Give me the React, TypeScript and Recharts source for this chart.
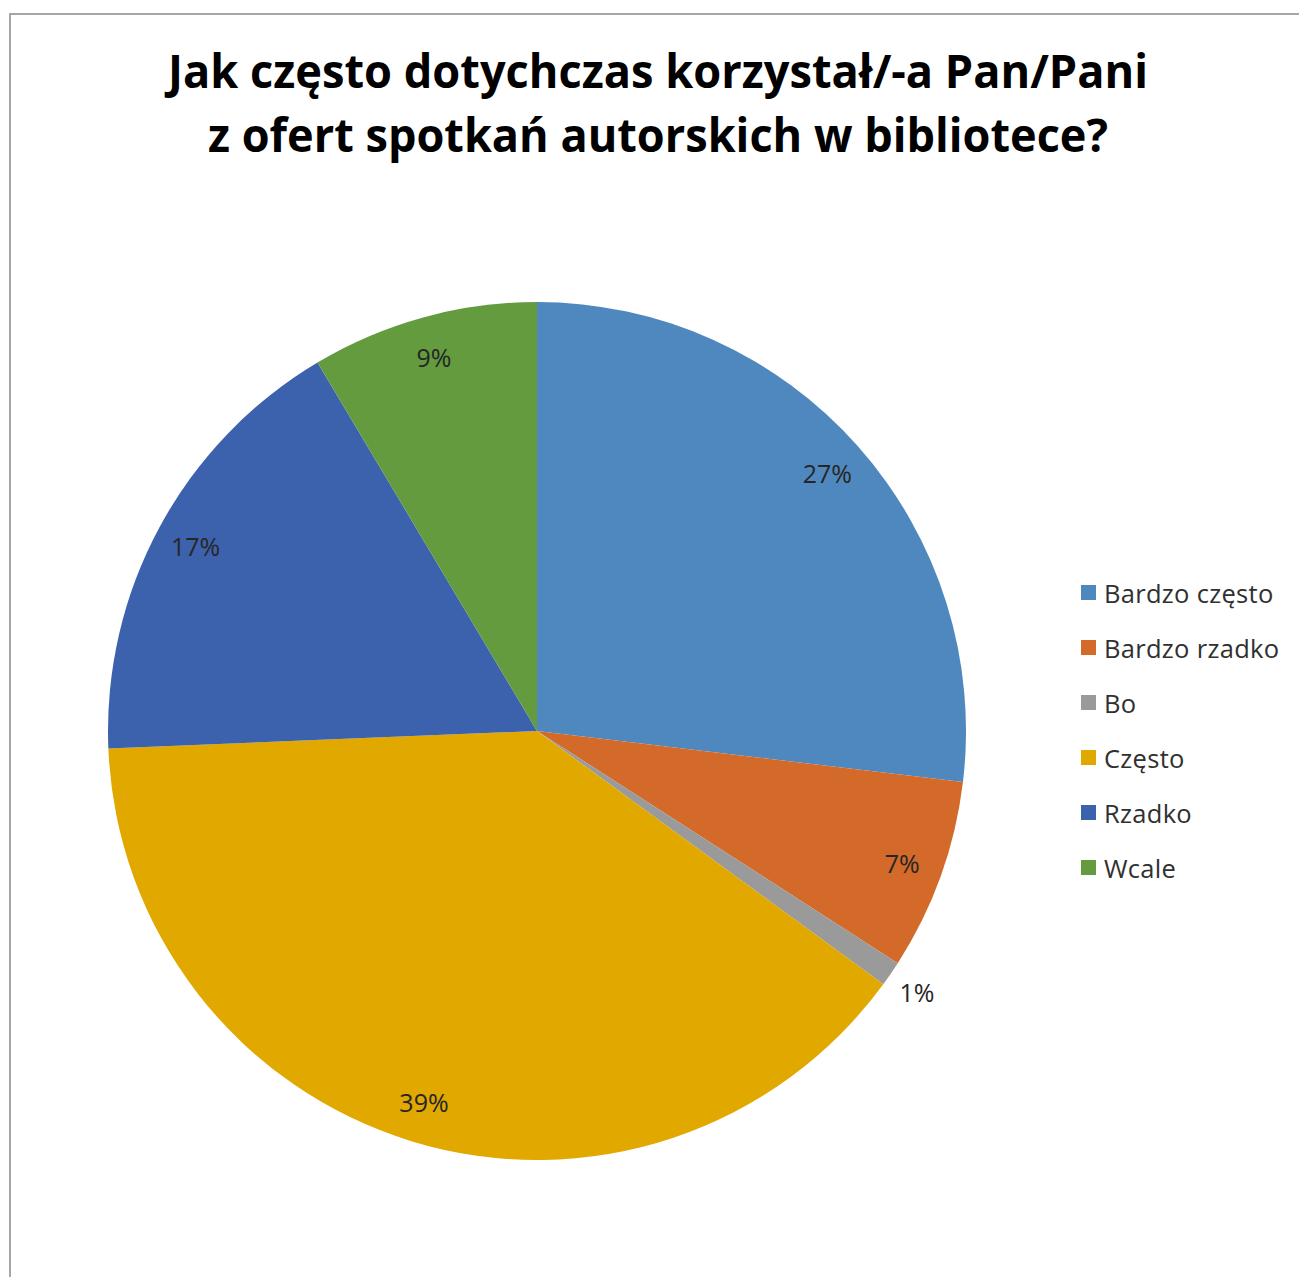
import React from 'react';
import { PieChart, Pie, Cell, Legend } from 'recharts';

const titleLines = [
  'Jak często dotychczas korzystał/-a Pan/Pani',
  'z ofert spotkań autorskich w bibliotece?',
];
const categories = ['Bardzo często', 'Bardzo rzadko', 'Bo', 'Często', 'Rzadko', 'Wcale'];
const values = [26.9, 7.2, 0.95, 39.3, 17.1, 8.55];
const colors = ['#4F88BE', '#D36A2A', '#9A9A9A', '#E1A800', '#3C62AD', '#639B3E'];

const data = categories.map((name, i) => ({ name, value: values[i] }));

const RAD = Math.PI / 180;
const FONT = '"Open Sans", "Noto Sans", sans-serif';

const renderLabel = (props: any) => {
  const { cx, cy, midAngle, outerRadius, percent } = props;
  const r = percent < 0.02 ? outerRadius + 32 : outerRadius * 0.905;
  const x = cx + r * Math.cos(-midAngle * RAD);
  const y = cy + r * Math.sin(-midAngle * RAD);
  return (
    <text
      x={x}
      y={y}
      fill="#262626"
      fontFamily={FONT}
      fontSize={25}
      textAnchor="middle"
      dominantBaseline="central"
    >
      {`${Math.round(percent * 100)}%`}
    </text>
  );
};

const renderLegend = (props: any) => {
  const payload = props.payload || [];
  return (
    <div style={{ fontFamily: FONT }}>
      {payload.map((entry: any, i: number) => (
        <div
          key={i}
          style={{
            height: 55,
            display: 'flex',
            alignItems: 'center',
            whiteSpace: 'nowrap',
          }}
        >
          <span
            style={{
              display: 'inline-block',
              width: 15,
              height: 15,
              background: entry.color,
              marginRight: 8,
            }}
          />
          <span style={{ fontSize: 25.5, color: '#303030', letterSpacing: 0.3 }}>{entry.value}</span>
        </div>
      ))}
    </div>
  );
};

export default function App() {
  return (
    <div
      style={{
        position: 'absolute',
        left: 0,
        top: 0,
        width: 1299,
        height: 1277,
        overflow: 'hidden',
        background: '#ffffff',
      }}
    >
      <div
        style={{
          position: 'absolute',
          left: 9,
          top: 13,
          width: 1400,
          height: 1400,
          borderTop: '2px solid #a6a6a6',
          borderLeft: '2px solid #a6a6a6',
        }}
      />
      <svg
        width={1299}
        height={180}
        style={{ position: 'absolute', left: 0, top: 0 }}
      >
        <text
          x={658}
          y={88}
          textAnchor="middle"
          fontFamily={FONT}
          fontWeight="bold"
          fontSize={47}
          fill="#000000"
          textLength={980}
          lengthAdjust="spacingAndGlyphs"
        >
          {titleLines[0]}
        </text>
        <text
          x={658}
          y={152}
          textAnchor="middle"
          fontFamily={FONT}
          fontWeight="bold"
          fontSize={47}
          fill="#000000"
          textLength={900}
          lengthAdjust="spacingAndGlyphs"
        >
          {titleLines[1]}
        </text>
      </svg>
      <div style={{ position: 'absolute', left: 0, top: 0 }}>
        <PieChart width={1299} height={1277} margin={{ top: 0, right: 0, bottom: 0, left: 0 }}>
          <Pie
            data={data}
            dataKey="value"
            nameKey="name"
            cx={537}
            cy={731}
            outerRadius={429}
            startAngle={90}
            endAngle={-270}
            stroke="none"
            label={renderLabel}
            labelLine={false}
            isAnimationActive={false}
          >
            {data.map((d, i) => (
              <Cell key={d.name} fill={colors[i]} />
            ))}
          </Pie>
          <Legend
            layout="vertical"
            align="right"
            verticalAlign="middle"
            content={renderLegend}
            wrapperStyle={{ left: 1081, top: 565, width: 218 }}
          />
        </PieChart>
      </div>
    </div>
  );
}
